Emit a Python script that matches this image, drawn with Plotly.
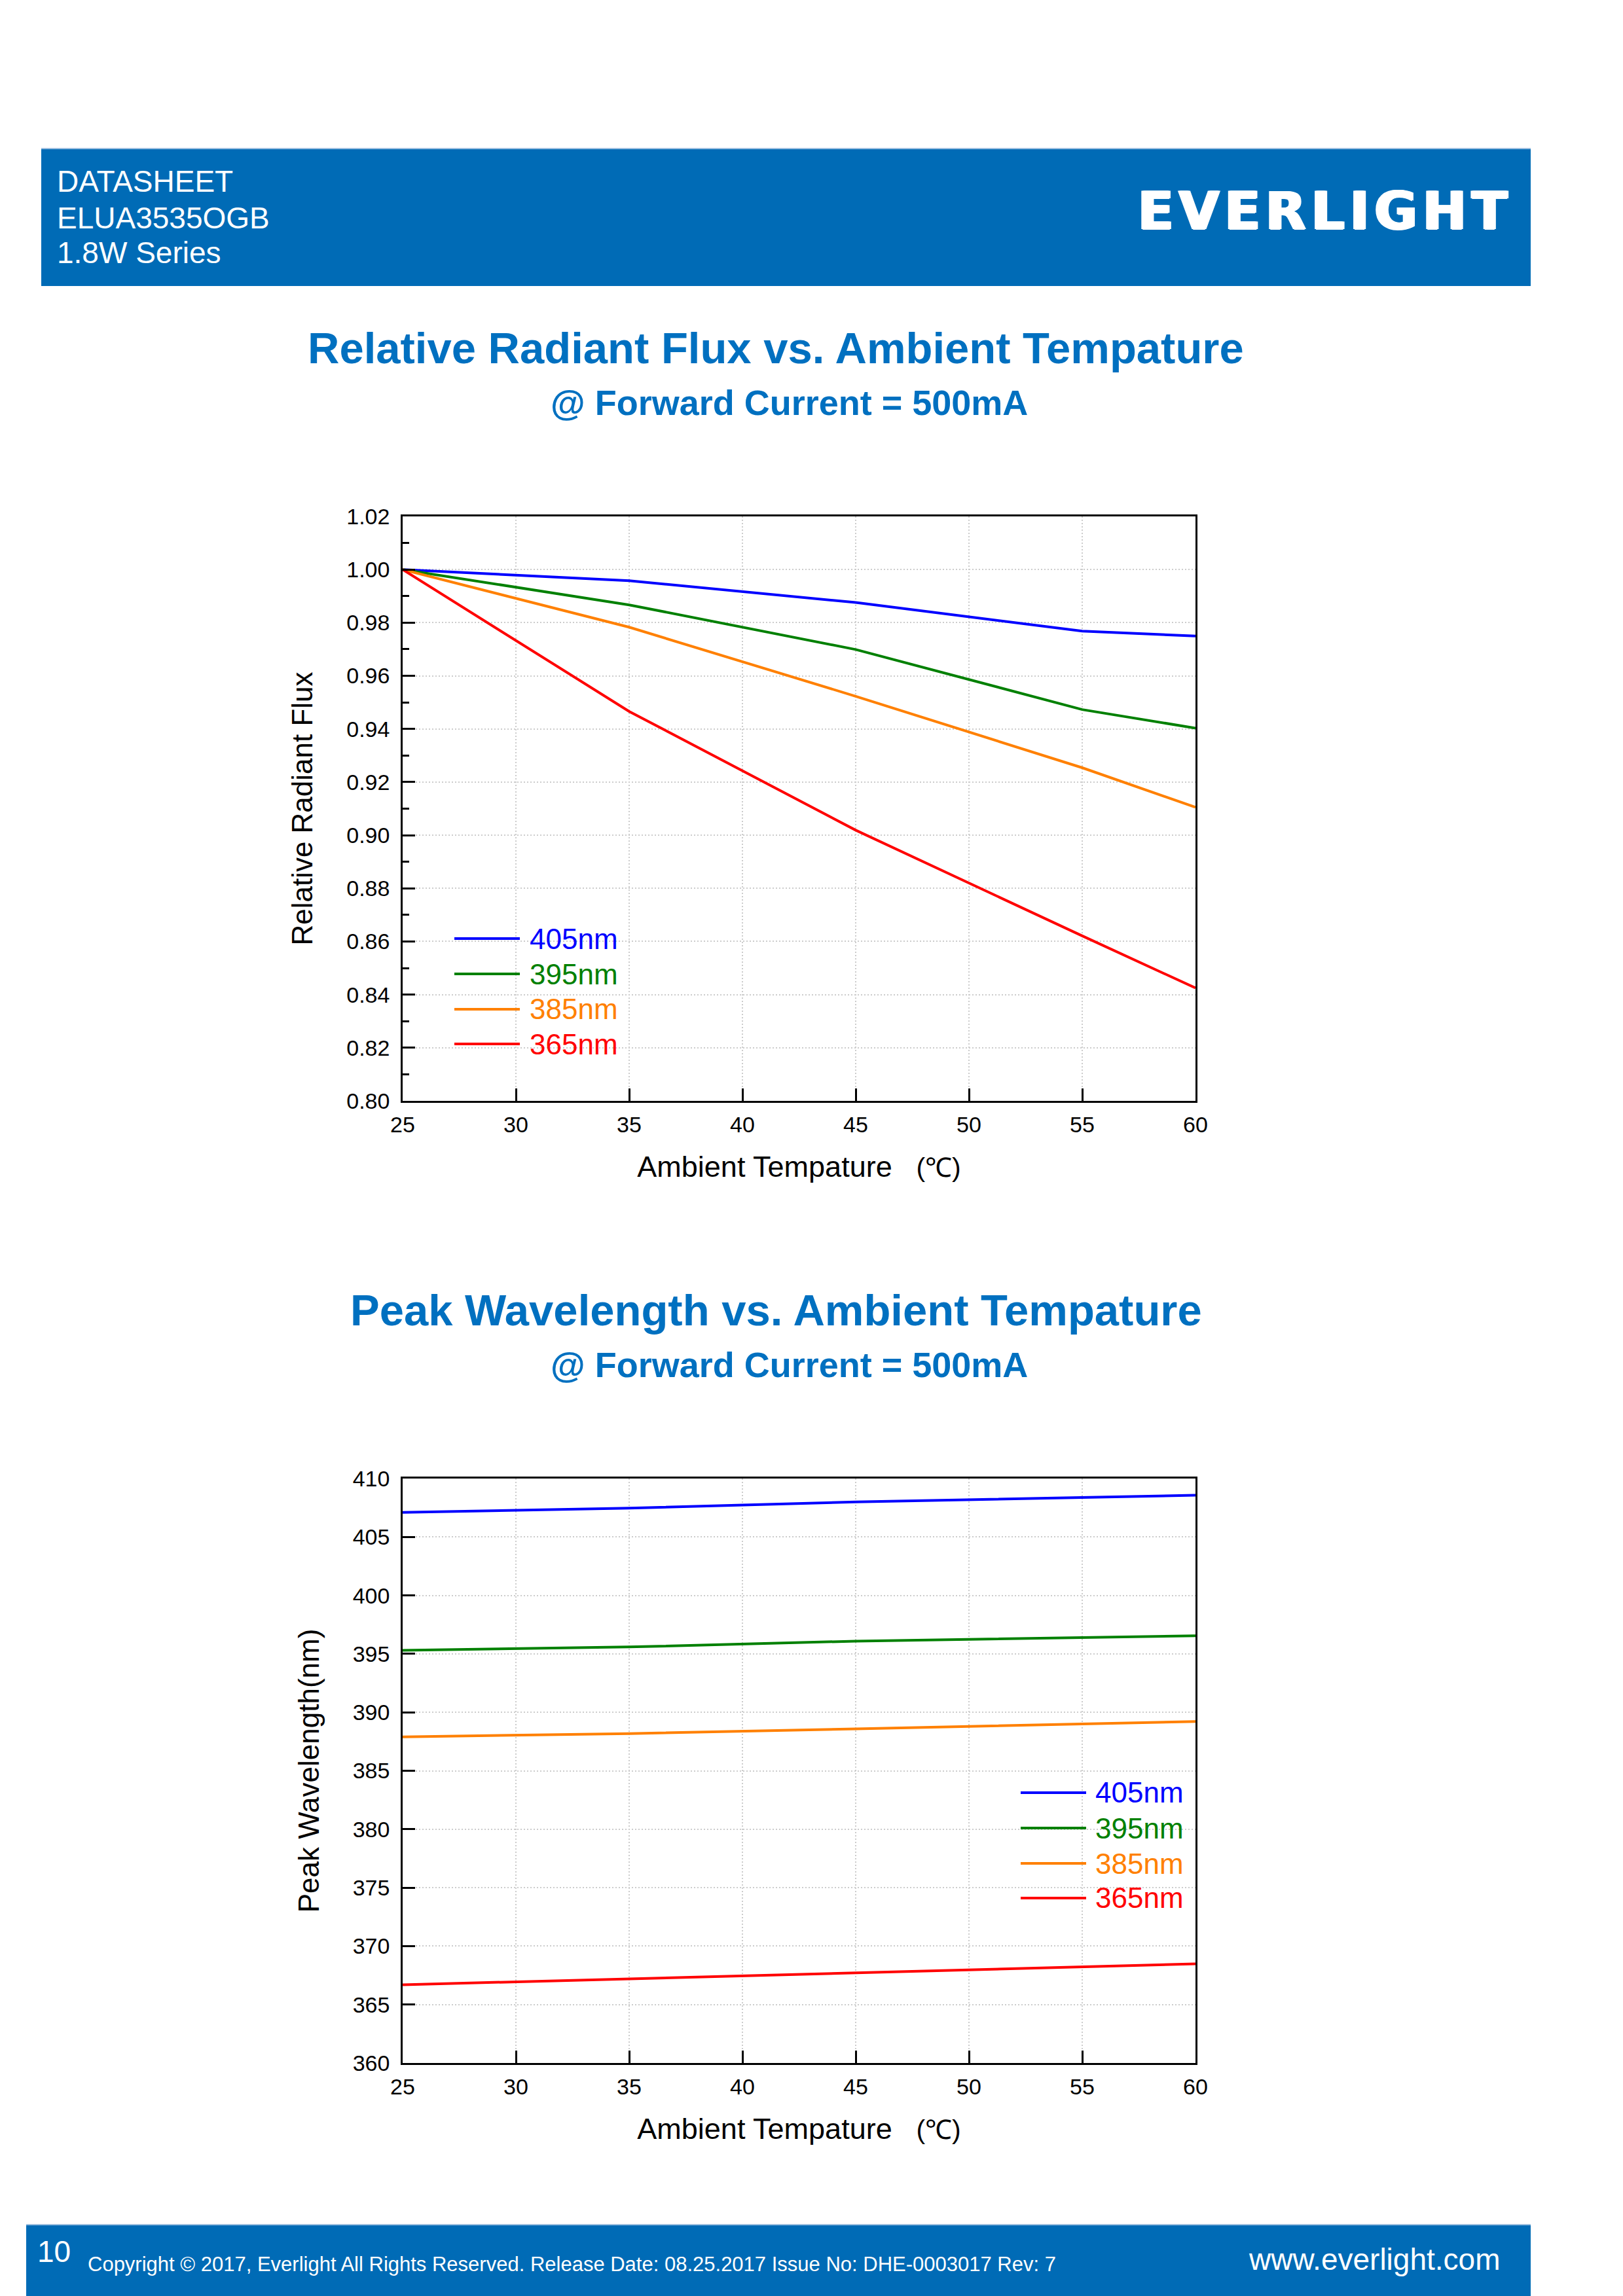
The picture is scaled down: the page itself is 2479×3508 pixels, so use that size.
import plotly.graph_objects as go

# ---------------- data ----------------
temps = [25, 35, 45, 55, 60]
series_names = ["405nm", "395nm", "385nm", "365nm"]
series_colors = ["#0000FF", "#008000", "#FF8000", "#FF0000"]

flux_405 = [1.000, 0.9958, 0.9876, 0.9768, 0.9750]
flux_395 = [1.000, 0.9867, 0.9699, 0.9473, 0.9403]
flux_385 = [1.000, 0.9783, 0.9523, 0.9254, 0.9105]
flux_365 = [1.000, 0.9466, 0.9019, 0.8621, 0.8425]

wl_405 = [407.10, 407.46, 408.00, 408.39, 408.57]
wl_395 = [395.30, 395.59, 396.09, 396.37, 396.55]
wl_385 = [387.90, 388.18, 388.58, 389.00, 389.22]
wl_365 = [366.69, 367.19, 367.73, 368.23, 368.48]

flux_series = [flux_405, flux_395, flux_385, flux_365]
wl_series = [wl_405, wl_395, wl_385, wl_365]

W, H = 2479, 3508
OFF = 8  # page body margin offset
FONT = "Liberation Sans, Arial, Helvetica, sans-serif"
BLUE_BAR = "#006BB6"
TITLE_BLUE = "#0070C0"
NB = "\u00a0"


def px(x):
    return (x - OFF) / W


def py(y):
    return 1 - (y - OFF) / H


fig = go.Figure()

for name, color, vals in zip(series_names, series_colors, flux_series):
    fig.add_trace(go.Scatter(x=temps, y=vals, mode="lines", name=name,
                             line=dict(color=color, width=4),
                             xaxis="x", yaxis="y", showlegend=False))
for name, color, vals in zip(series_names, series_colors, wl_series):
    fig.add_trace(go.Scatter(x=temps, y=vals, mode="lines", name=name,
                             line=dict(color=color, width=4),
                             xaxis="x2", yaxis="y2", showlegend=False))

xdom = [px(615), px(1826)]
ydom1 = [py(1682), py(789)]
ydom2 = [py(3152), py(2259)]

axis_common = dict(
    automargin=False,
    showline=True, linecolor="black", linewidth=2.5, mirror=True,
    ticks="inside", ticklen=19, tickwidth=2.5, tickcolor="black",
    showgrid=True, gridcolor="#cccccc", gridwidth=2, griddash="2px,3px",
    zeroline=False,
    tickfont=dict(family=FONT, size=34, color="black"),
    title_font=dict(family=FONT, size=44, color="black"),
)

xtitle = ("<span style='font-size:45px'>Ambient Tempature</span>" + NB * 3 +
          "<span style='font-size:41px'>(\u2103)</span>")

fig.update_layout(
    template="none",
    width=W, height=H, autosize=False,
    margin=dict(l=0, r=0, t=0, b=0, pad=0, autoexpand=False),
    paper_bgcolor="white", plot_bgcolor="white",
    font=dict(family=FONT),
    showlegend=False,
    xaxis=dict(domain=xdom, anchor="y", range=[25, 60], dtick=5, tick0=25,
               title=dict(text=xtitle, standoff=32), ticklabelstandoff=4,
               **axis_common),
    yaxis=dict(domain=ydom1, anchor="x", range=[0.80, 1.02], dtick=0.02, tick0=0.80,
               tickformat=".2f",
               minor=dict(dtick=0.01, ticks="inside", ticklen=10, tickwidth=2.5,
                          tickcolor="black", showgrid=False),
               title=dict(text="Relative Radiant Flux" + NB * 3, standoff=38),
               ticklabelstandoff=10, **axis_common),
    xaxis2=dict(domain=xdom, anchor="y2", range=[25, 60], dtick=5, tick0=25,
                title=dict(text=xtitle, standoff=32), ticklabelstandoff=4,
                **axis_common),
    yaxis2=dict(domain=ydom2, anchor="x2", range=[360, 410], dtick=5, tick0=360,
                title=dict(text="Peak Wavelength(nm)" + NB * 2, standoff=38),
                ticklabelstandoff=10, **axis_common),
)

shapes = []
annotations = []

# header bar
shapes.append(dict(type="rect", xref="paper", yref="paper",
                   x0=px(63), x1=px(2338), y0=py(437), y1=py(226),
                   fillcolor=BLUE_BAR, line=dict(width=0), layer="below"))
shapes.append(dict(type="line", xref="paper", yref="paper",
                   x0=px(63), x1=px(2338), y0=py(227), y1=py(227),
                   line=dict(color="#9dbfe0", width=2)))
for txt, yy in [("DATASHEET", 277), ("ELUA3535OGB", 333), ("1.8W Series", 386)]:
    annotations.append(dict(text=txt, xref="paper", yref="paper", x=px(85), y=py(yy),
                            xanchor="left", yanchor="middle", showarrow=False,
                            font=dict(family=FONT, size=46, color="white")))
annotations.append(dict(text="<b>E\u200aV\u200aE\u200aR\u200aL\u200aI\u200aG\u200aH\u200aT</b>",
                        xref="paper", yref="paper", x=px(2305), y=py(322),
                        xanchor="right", yanchor="middle", showarrow=False,
                        font=dict(family="DejaVu Sans", size=80, color="white",
                                  shadow="2px 0 0 #ffffff, -2px 0 0 #ffffff, 0 1px 0 #ffffff")))

# footer bar
shapes.append(dict(type="rect", xref="paper", yref="paper",
                   x0=px(40), x1=px(2338), y0=0, y1=py(3399),
                   fillcolor=BLUE_BAR, line=dict(width=0), layer="below"))
shapes.append(dict(type="line", xref="paper", yref="paper",
                   x0=px(40), x1=px(2338), y0=py(3399), y1=py(3399),
                   line=dict(color="#9dbfe0", width=2)))
annotations.append(dict(text="10", xref="paper", yref="paper", x=px(55), y=py(3440),
                        xanchor="left", yanchor="middle", showarrow=False,
                        font=dict(family=FONT, size=46, color="white")))
annotations.append(dict(text="Copyright \u00a9 2017, Everlight All Rights Reserved. Release Date: 08.25.2017 Issue No: DHE-0003017 Rev: 7",
                        xref="paper", yref="paper", x=px(132), y=py(3459),
                        xanchor="left", yanchor="middle", showarrow=False,
                        font=dict(family=FONT, size=31, color="white")))
annotations.append(dict(text="www.everlight.com", xref="paper", yref="paper",
                        x=px(2293), y=py(3452), xanchor="right", yanchor="middle",
                        showarrow=False, font=dict(family=FONT, size=46, color="white")))

# chart titles
for title, cx, cy, scx, scy in [
    ("Relative Radiant Flux vs. Ambient Tempature", 1185, 531, 1205, 615),
    ("Peak Wavelength vs. Ambient Tempature", 1185, 2001, 1205, 2085),
]:
    annotations.append(dict(text="<b>" + title + "</b>", xref="paper", yref="paper",
                            x=px(cx), y=py(cy), xanchor="center", yanchor="middle",
                            showarrow=False,
                            font=dict(family=FONT, size=67, color=TITLE_BLUE)))
    annotations.append(dict(text="<b>@ Forward Current = 500mA</b>", xref="paper", yref="paper",
                            x=px(scx), y=py(scy), xanchor="center", yanchor="middle",
                            showarrow=False,
                            font=dict(family=FONT, size=54, color=TITLE_BLUE)))

# custom legends (lines + colored labels)
leg1_x = (0.0652, 0.1478, 0.1585)
leg1_y = [0.2777, 0.2172, 0.1568, 0.0974]
leg2_x = (0.7795, 0.8621, 0.8720)
leg2_y = [0.4625, 0.4020, 0.3415, 0.2822]
for (xr, yr, lx, ly) in [("x domain", "y domain", leg1_x, leg1_y),
                         ("x2 domain", "y2 domain", leg2_x, leg2_y)]:
    for name, color, yy in zip(series_names, series_colors, ly):
        shapes.append(dict(type="line", xref=xr, yref=yr, x0=lx[0], x1=lx[1],
                           y0=yy, y1=yy, line=dict(color=color, width=4)))
        annotations.append(dict(text=name, xref=xr, yref=yr, x=lx[2], y=yy,
                                xanchor="left", yanchor="middle", showarrow=False,
                                font=dict(family=FONT, size=44, color=color)))

fig.update_layout(shapes=shapes, annotations=annotations)

fig.write_html("out.html")
